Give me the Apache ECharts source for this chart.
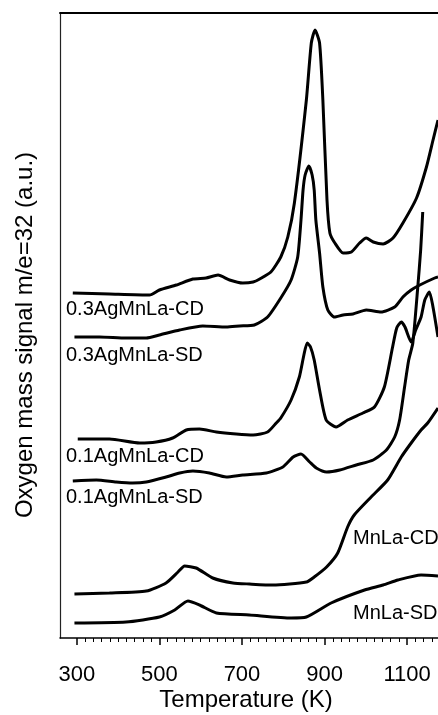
<!DOCTYPE html>
<html>
<head>
<meta charset="utf-8">
<script src="https://cdn.jsdelivr.net/npm/echarts@6/dist/echarts.min.js"></script>
<style>
  html, body { margin: 0; padding: 0; background: #fff; }
  #chart { width: 438px; height: 715px; }
</style>
</head>
<body>
<div id="chart"></div>
<script>
// O2 (m/e=32) desorption profiles, temperature in K, signal in arbitrary units
const tempCD03 = [290, 379, 476, 500, 541, 581, 613, 642, 670, 702, 727, 743, 770, 794, 811, 827, 856, 868, 877, 888, 896, 906, 913, 925, 945, 965, 985, 1001, 1018, 1042, 1066, 1090, 1123, 1147, 1163, 1175];
const sigCD03  = [345, 344, 343, 348, 353, 359, 360, 363, 358, 355, 356, 359, 366, 381, 401, 435, 538, 595, 608, 595, 538, 438, 405, 395, 385, 386, 395, 400, 396, 394, 400, 415, 440, 471, 498, 518];

const tempSD03 = [294, 355, 419, 468, 500, 549, 605, 662, 694, 730, 762, 794, 819, 835, 843, 848, 853, 862, 870, 875, 879, 888, 896, 908, 924, 945, 969, 1001, 1037, 1070, 1090, 1110, 1131, 1167, 1175];
const sigSD03  = [301, 301, 300, 300, 303, 308, 312, 311, 312, 313, 321, 340, 358, 381, 418, 448, 463, 472, 463, 448, 418, 385, 351, 328, 321, 323, 324, 328, 326, 331, 341, 348, 353, 360, 361];

const tempCD01 = [302, 379, 452, 492, 532, 565, 597, 638, 686, 727, 762, 783, 794, 819, 839, 850, 858, 866, 875, 888, 904, 928, 956, 993, 1021, 1045, 1065, 1075, 1086, 1095, 1110, 1121, 1134, 1143, 1154, 1162, 1175];
const sigCD01  = [199, 199, 195, 196, 200, 208, 209, 206, 204, 203, 206, 215, 220, 238, 261, 283, 295, 291, 278, 248, 218, 211, 218, 225, 231, 251, 291, 310, 316, 311, 296, 308, 321, 338, 346, 333, 301];

const tempSD01 = [290, 347, 395, 435, 468, 516, 549, 581, 621, 662, 702, 759, 799, 824, 843, 864, 880, 905, 937, 977, 1018, 1050, 1070, 1082, 1094, 1104, 1114, 1126, 1133, 1138];
const sigSD01  = [157, 158, 156, 155, 156, 161, 165, 167, 165, 161, 163, 165, 171, 181, 184, 176, 170, 166, 168, 173, 178, 188, 201, 218, 251, 278, 295, 351, 388, 426];

const tempCD00 = [294, 379, 468, 516, 545, 561, 589, 629, 678, 718, 775, 856, 875, 905, 932, 956, 972, 1013, 1053, 1086, 1110, 1134, 1150, 1175];
const sigCD00  = [44, 45, 47, 55, 66, 72, 70, 60, 55, 54, 53, 56, 61, 71, 85, 111, 123, 141, 158, 181, 195, 208, 215, 230];

const tempSD00 = [294, 419, 500, 537, 569, 597, 638, 718, 819, 856, 916, 997, 1042, 1078, 1134, 1175];
const sigSD00  = [15, 16, 21, 28, 37, 33, 25, 23, 20, 21, 35, 48, 53, 58, 63, 62];

const xTickLabels = [300, 500, 700, 900, 1100];
const xMinorTicks = [];
for (let t = 320; t < 1175; t += 20) {
  if (xTickLabels.indexOf(t) < 0) xMinorTicks.push(t);
}

const curveNames = ['0.3AgMnLa-CD', '0.3AgMnLa-SD', '0.1AgMnLa-CD', '0.1AgMnLa-SD', 'MnLa-CD', 'MnLa-SD'];
const curves = [
  [tempCD03, sigCD03], [tempSD03, sigSD03], [tempCD01, sigCD01],
  [tempSD01, sigSD01], [tempCD00, sigCD00], [tempSD00, sigSD00]
];

const FONT = '"Liberation Sans", Arial, sans-serif';

const chart = echarts.init(document.getElementById('chart'), null, { renderer: 'canvas' });

const series = curves.map(function (c, i) {
  return {
    name: curveNames[i],
    type: 'line',
    xAxisIndex: 0,
    yAxisIndex: 0,
    showSymbol: false,
    smooth: 0.2,
    lineStyle: { color: '#000', width: 3 },
    data: c[0].map(function (t, k) { return [t, c[1][k]]; })
  };
});

// curve captions placed next to each trace
const captions = [
  { text: '0.3AgMnLa-CD', x: 66, y: 309 },
  { text: '0.3AgMnLa-SD', x: 66, y: 355 },
  { text: '0.1AgMnLa-CD', x: 66, y: 456 },
  { text: '0.1AgMnLa-SD', x: 66, y: 497 },
  { text: 'MnLa-CD', x: 353, y: 538 },
  { text: 'MnLa-SD', x: 353, y: 613 }
];

const graphics = captions.map(function (c) {
  return {
    type: 'text', x: c.x, y: c.y,
    style: { text: c.text, font: '20px ' + FONT, fill: '#000', textVerticalAlign: 'middle', textAlign: 'left' }
  };
});
graphics.push({
  type: 'text', x: 25, y: 335, rotation: Math.PI / 2,
  style: { text: 'Oxygen mass signal m/e=32 (a.u.)', font: '24px ' + FONT, fill: '#000', textAlign: 'center', textVerticalAlign: 'middle' }
});
graphics.push({
  type: 'text', x: 246, y: 700,
  style: { text: 'Temperature (K)', font: '24px ' + FONT, fill: '#000', textAlign: 'center', textVerticalAlign: 'middle' }
});

chart.setOption({
  animation: false,
  backgroundColor: '#fff',
  grid: { left: 60, right: 0, top: 13, bottom: 77, containLabel: false },
  xAxis: [
    {
      type: 'value', min: 259, max: 1175, position: 'bottom',
      axisLine: { show: true, lineStyle: { color: '#000', width: 1.5 } },
      axisTick: { show: true, length: 7, lineStyle: { color: '#000', width: 1.5 }, customValues: xTickLabels },
      axisLabel: {
        show: true, customValues: xTickLabels, margin: 26, fontSize: 22, fontFamily: FONT, color: '#000',
        formatter: function (v) { return String(v); }
      },
      splitLine: { show: false }
    },
    {
      type: 'value', min: 259, max: 1175, position: 'bottom',
      axisLine: { show: false },
      axisTick: { show: true, length: 4, lineStyle: { color: '#000', width: 1 }, customValues: xMinorTicks },
      axisLabel: { show: false },
      splitLine: { show: false }
    },
    {
      type: 'value', min: 259, max: 1175, position: 'top',
      axisLine: { show: true, lineStyle: { color: '#000', width: 2 } },
      axisTick: { show: false },
      axisLabel: { show: false },
      splitLine: { show: false }
    }
  ],
  yAxis: {
    type: 'value', min: 0, max: 625,
    axisLine: { show: true, lineStyle: { color: '#222', width: 1.2 } },
    axisTick: { show: false },
    axisLabel: { show: false },
    splitLine: { show: false }
  },
  graphic: graphics,
  series: series
});
</script>
</body>
</html>
